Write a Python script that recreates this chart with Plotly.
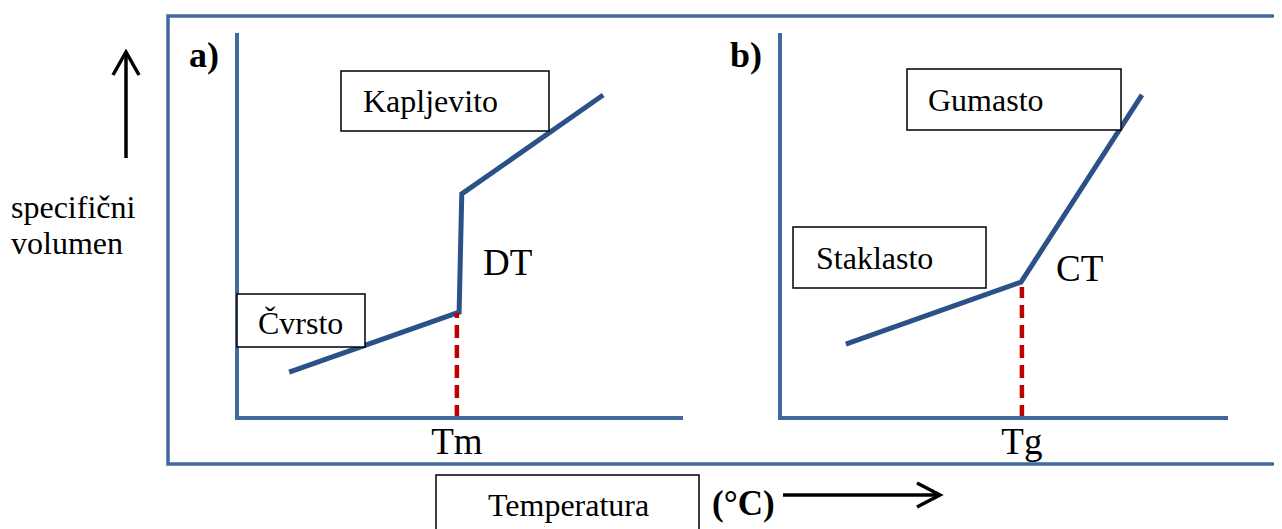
import plotly.graph_objects as go

# page body has an 8px margin, so the figure is sized to fill the rest of the window
OFF = 8
W, H = 1282 - OFF, 529 - OFF

# ---------------- data (arbitrary units, 0-100 on each axis) ----------------
# Panel a) crystalline: specific volume vs temperature with discontinuous transition at Tm
a_temp = [11.7, 49.8, 50.4, 82.1]
a_vol = [11.9, 27.5, 58.2, 83.9]
Tm = 49.3
Tm_vol = 27.3

# Panel b) amorphous: continuous transition at Tg
b_temp = [14.7, 53.8, 80.8]
b_vol = [19.2, 35.3, 83.9]
Tg = 54.0
Tg_vol = 34.0

tick_a = ["Tm"]
tick_b = ["Tg"]

# ---------------- style ----------------
AX = "#41699C"
CURVE = "#2B5288"
RED = "#C00000"
SERIF = "Liberation Serif"


def px(x):
    return (x - OFF) / W


def py(y):
    return 1 - (y - OFF) / H


fig = go.Figure()

fig.add_trace(go.Scatter(x=a_temp, y=a_vol, mode="lines", xaxis="x", yaxis="y",
                         line=dict(color=CURVE, width=5), hoverinfo="skip", showlegend=False))
fig.add_trace(go.Scatter(x=[Tm, Tm], y=[0, Tm_vol], mode="lines", xaxis="x", yaxis="y",
                         line=dict(color=RED, width=4.5, dash="13px,7px"), hoverinfo="skip", showlegend=False))
fig.add_trace(go.Scatter(x=b_temp, y=b_vol, mode="lines", xaxis="x2", yaxis="y2",
                         line=dict(color=CURVE, width=5), hoverinfo="skip", showlegend=False))
fig.add_trace(go.Scatter(x=[Tg, Tg], y=[0, Tg_vol], mode="lines", xaxis="x2", yaxis="y2",
                         line=dict(color=RED, width=4.5, dash="13px,7px"), hoverinfo="skip", showlegend=False))

# axis lines are drawn just outside the plot area, so the domains are inset by 2px
ydom = [py(416), py(33)]
y_lo = 2 / 3.85


def xax(dom, lo, tv, tt):
    return dict(domain=dom, range=[lo, 100], showline=True, linecolor=AX, linewidth=3.5,
                showgrid=False, zeroline=False, ticks="", tickvals=tv, ticktext=tt,
                ticklabelstandoff=-10,
                tickfont=dict(family=SERIF, size=37, color="black"), fixedrange=True)


def yax(anchor):
    return dict(domain=ydom, range=[y_lo, 100], showline=True, linecolor=AX, linewidth=3.5,
                showgrid=False, zeroline=False, showticklabels=False, ticks="",
                anchor=anchor, fixedrange=True)


layout_x1 = xax([px(239), px(683)], 2 / 4.46, [Tm], tick_a)
layout_x1["anchor"] = "y"
layout_x2 = xax([px(782), px(1228)], 2 / 4.48, [Tg], tick_b)
layout_x2["anchor"] = "y2"

shapes = []
# outer frame
shapes.append(dict(type="rect", xref="paper", yref="paper", x0=px(168), x1=px(1292),
                   y0=py(464), y1=py(16), line=dict(color=AX, width=3.5), layer="below"))


def box(x0, y0, x1, y1):
    shapes.append(dict(type="rect", xref="paper", yref="paper", x0=px(x0), x1=px(x1),
                       y0=py(y1), y1=py(y0), line=dict(color="black", width=1.5),
                       fillcolor="white", layer="above"))


box(341, 71, 549, 131)    # Kapljevito
box(237, 294, 365, 347)   # Čvrsto
box(907, 69, 1121, 130)   # Gumasto
box(793, 227, 986, 288)   # Staklasto
box(436, 475, 699, 545)   # Temperatura


def path(points):
    return "M" + " L".join(f"{px(x):.5f},{py(y):.5f}" for x, y in points)


arrow_style = dict(type="path", xref="paper", yref="paper", line=dict(color="black", width=3.5), layer="above")
shapes.append(dict(path=path([(126, 158), (126, 53)]), **arrow_style))
shapes.append(dict(path=path([(113, 75), (126, 52), (139, 75)]), **arrow_style))
shapes.append(dict(path=path([(783, 495), (939, 495)]), **arrow_style))
shapes.append(dict(path=path([(917, 483), (940, 495), (917, 507)]), **arrow_style))

annotations = []


def label(text, x, y, size=32, bold=False, xanchor="left"):
    t = f"<b>{text}</b>" if bold else text
    annotations.append(dict(text=t, x=px(x), y=py(y), xref="paper", yref="paper",
                            xanchor=xanchor, yanchor="middle", showarrow=False, borderpad=0,
                            font=dict(family=SERIF, size=size, color="black")))


label("Kapljevito", 362, 101)
label("Čvrsto", 257, 323)
label("Gumasto", 927, 100)
label("Staklasto", 815, 258)
label("DT", 482, 262, size=37)
label("CT", 1055, 268, size=37)
label("a)", 188, 55, size=36, bold=True)
label("b)", 729, 55, size=36, bold=True)
label("specifični", 10, 207)
label("volumen", 10, 243)
label("Temperatura", 487, 505)
label("(°C)", 711, 503, size=35, bold=True)

fig.update_layout(
    width=W, height=H,
    margin=dict(l=0, r=0, t=0, b=0),
    paper_bgcolor="white", plot_bgcolor="white",
    xaxis=layout_x1, yaxis=yax("x"),
    xaxis2=layout_x2, yaxis2=yax("x2"),
    shapes=shapes, annotations=annotations,
    showlegend=False,
)

fig.write_html("out.html", config={"displayModeBar": False})
